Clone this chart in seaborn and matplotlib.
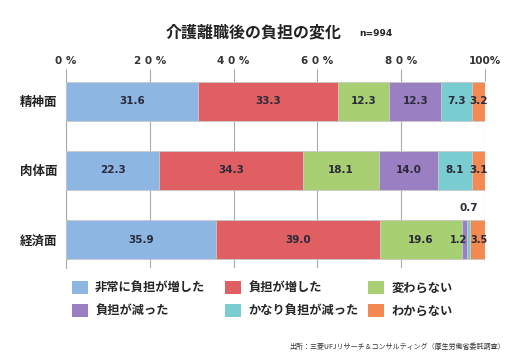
import matplotlib
matplotlib.use("Agg")
import matplotlib.pyplot as plt
import seaborn as sns
import pandas as pd
import numpy as np
from matplotlib.patches import Patch

sns.set_theme(style="white")
plt.rcParams['font.family'] = ['Noto Sans CJK JP', 'DejaVu Sans']

categories = ["精神面", "肉体面", "経済面"]
series = ["非常に負担が増した", "負担が増した", "変わらない", "負担が減った", "かなり負担が減った", "わからない"]
values = {
    "非常に負担が増した": [31.6, 22.3, 35.9],
    "負担が増した": [33.3, 34.3, 39.0],
    "変わらない": [12.3, 18.1, 19.6],
    "負担が減った": [12.3, 14.0, 1.2],
    "かなり負担が減った": [7.3, 8.1, 0.7],
    "わからない": [3.2, 3.1, 3.5],
}
colors = ["#8db6e3", "#e05f62", "#a8cf72", "#9a80c2", "#79cdd0", "#f28a52"]
tick_vals = [0, 20, 40, 60, 80, 100]
tick_labels = ["0 %", "2 0 %", "4 0 %", "6 0 %", "8 0 %", "100%"]

fig = plt.figure(figsize=(5.13, 3.60), dpi=100)
ax = fig.add_axes([66/513, 1-268/360, (485-66)/513, (268-81)/360])

left = np.zeros(len(categories))
ypos = np.arange(len(categories))
for s, c in zip(series, colors):
    v = np.array(values[s])
    ax.barh(ypos, v, left=left, height=0.565, color=c, edgecolor="#c8c8c8", linewidth=0.6, zorder=3)
    for i, (l, w) in enumerate(zip(left, v)):
        cx = l + w / 2
        cy = ypos[i]
        fs = 7.5
        if w < 1.0:
            cy = ypos[i] - 0.45
        elif w < 2.0:
            cx = cx - 1.3
            fs = 7
        elif w < 4.0 and i == 2:
            cx = cx + 0.4
            fs = 7
        ax.text(cx, cy, f"{w:.1f}", ha="center", va="center", fontsize=fs,
                fontweight="bold", color="#2a2a3a", zorder=4, family="DejaVu Sans")
    left = left + v

ax.set_xlim(0, 100)
ax.set_ylim(2.41, -0.29)
ax.set_yticks(ypos)
ax.set_yticklabels(categories, fontsize=9, fontweight="bold", color="#222222")
ax.set_xticks(tick_vals)
ax.set_xticklabels(tick_labels, fontsize=7.5, fontweight="bold", color="#333333", family="DejaVu Sans")
ax.xaxis.tick_top()
ax.tick_params(axis="x", top=True, length=9, width=0.8, color="#aaaaaa", pad=2)
ax.tick_params(axis="y", left=False, length=0, pad=6)
ax.grid(axis="x", color="#aaaaaa", linewidth=0.8, zorder=0)
for sp in ["top", "bottom", "right"]:
    ax.spines[sp].set_visible(False)
ax.spines["left"].set_color("#aaaaaa")
ax.spines["left"].set_linewidth(0.8)

col_x = [72, 225, 368]
for k in range(3):
    idx = [k, k + 3]
    hs = [Patch(facecolor=colors[j], edgecolor="none") for j in idx]
    ls = [series[j] for j in idx]
    fig.legend(hs, ls, loc="upper left", bbox_to_anchor=((col_x[k] - 5) / 513, 1 - 276 / 360), ncol=1,
               frameon=False, prop={"size": 8.8, "weight": "bold"}, handlelength=1.3, handleheight=1.3,
               handletextpad=0.6, labelspacing=0.75, borderaxespad=0)

fig.text(0.495, 1-32/360, "介護離職後の負担の変化", ha="center", va="center", fontsize=11.5, fontweight="bold", color="#222222")
fig.text(0.70, 1-34/360, "n=994", ha="left", va="center", fontsize=6.5, fontweight="bold", color="#222222", family="DejaVu Sans")
fig.text(0.985, 1-347/360, "出所：三菱UFJリサーチ＆コンサルティング（厚生労働省委託調査）", ha="right", va="center", fontsize=5, color="#333333")

fig.savefig("out.png", dpi=100)
